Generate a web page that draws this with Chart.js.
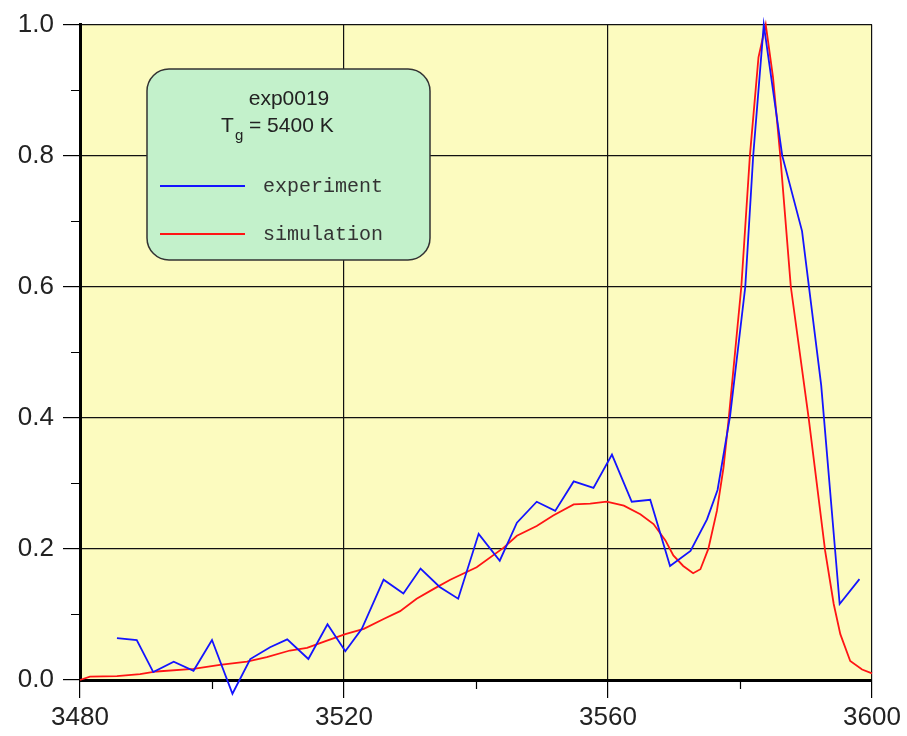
<!DOCTYPE html>
<html>
<head>
<meta charset="utf-8">
<title>exp0019</title>
<script src="https://cdn.jsdelivr.net/npm/chart.js@4.4.1/dist/chart.umd.min.js"></script>
<style>
  html, body { margin: 0; padding: 0; background: #fff; }
  #wrap { width: 907px; height: 736px; }
</style>
</head>
<body>
<div id="wrap"><canvas id="spectrum" width="907" height="736"></canvas></div>
<script>
// experiment (blue)
var expX = [3485.6, 3488.6, 3491.1, 3494.2, 3497.2, 3500.0, 3503.1, 3505.8, 3508.8, 3511.4,
            3514.6, 3517.5, 3520.2, 3522.7, 3526.0, 3529.0, 3531.6, 3534.5, 3537.3, 3540.4,
            3543.6, 3546.2, 3549.2, 3552.0, 3554.8, 3557.8, 3560.6, 3563.6, 3566.4, 3569.4,
            3572.5, 3575.0, 3576.6, 3578.5, 3580.8, 3582.0, 3583.6, 3586.4, 3589.4, 3592.3,
            3595.1, 3598.1];
var expY = [0.064, 0.061, 0.012, 0.028, 0.014, 0.061, -0.021, 0.032, 0.050, 0.062,
            0.032, 0.085, 0.044, 0.078, 0.153, 0.132, 0.170, 0.142, 0.124, 0.223,
            0.182, 0.240, 0.272, 0.258, 0.303, 0.293, 0.344, 0.272, 0.275, 0.174,
            0.197, 0.245, 0.290, 0.403, 0.600, 0.800, 1.000, 0.800, 0.685, 0.450,
            0.116, 0.154];

// simulation (red)
var simX = [3480.0, 3481.5, 3485.6, 3489.1, 3491.6, 3497.2, 3501.2, 3505.3, 3508.3, 3511.8,
            3514.4, 3517.1, 3520.2, 3523.0, 3526.0, 3528.5, 3531.0, 3533.6, 3536.1, 3540.1,
            3544.2, 3546.2, 3549.2, 3551.7, 3554.8, 3557.3, 3559.8, 3562.4, 3564.9, 3566.9,
            3568.7, 3569.9, 3571.4, 3572.9, 3574.0, 3575.2, 3576.5, 3577.5, 3578.3, 3580.2,
            3581.5, 3582.8, 3583.9, 3585.0, 3586.1, 3587.7, 3590.4, 3592.9, 3594.2, 3595.2,
            3596.7, 3598.5, 3600.0];
var simY = [0.000, 0.005, 0.006, 0.009, 0.013, 0.017, 0.023, 0.028, 0.035, 0.045,
            0.049, 0.059, 0.070, 0.078, 0.093, 0.105, 0.124, 0.139, 0.153, 0.172,
            0.202, 0.220, 0.235, 0.251, 0.268, 0.269, 0.272, 0.266, 0.253, 0.238,
            0.213, 0.190, 0.174, 0.163, 0.169, 0.200, 0.258, 0.324, 0.400, 0.600,
            0.800, 0.950, 1.000, 0.920, 0.800, 0.600, 0.400, 0.197, 0.116, 0.070,
            0.029, 0.016, 0.010];

var xMinorTicks = [3500, 3540, 3580];
var yMinorTicks = [0.1, 0.3, 0.5, 0.7, 0.9];

var legendTitle = 'exp0019';
var legendNames = ['experiment', 'simulation'];

function toPoints(xs, ys) {
    var pts = [];
    for (var i = 0; i < xs.length; i++) pts.push({ x: xs[i], y: ys[i] });
    return pts;
}

var tickFont = { family: '"Liberation Sans", Arial, sans-serif', size: 26 };

// yellow plot background + the small minor tick marks on the axes
var frame = {
    id: 'frame',
    beforeDraw: function(chart) {
        var a = chart.chartArea, c = chart.ctx;
        c.save();
        c.fillStyle = '#fcfbbf';
        c.fillRect(a.left, a.top, a.right - a.left, a.bottom - a.top);
        c.restore();
    },
    afterDraw: function(chart) {
        var c = chart.ctx, a = chart.chartArea;
        var xs = chart.scales.x, ys = chart.scales.y;
        c.save();
        c.strokeStyle = '#000';
        c.lineWidth = 1.2;
        c.beginPath();
        yMinorTicks.forEach(function(v) {
            var py = Math.round(ys.getPixelForValue(v)) + 0.5;
            c.moveTo(a.left - 9, py); c.lineTo(a.left, py);
        });
        xMinorTicks.forEach(function(v) {
            var px = Math.round(xs.getPixelForValue(v)) + 0.5;
            c.moveTo(px, a.bottom); c.lineTo(px, a.bottom + 9);
        });
        c.stroke();
        c.restore();
    }
};

// rounded green box with title and line samples
var legendBox = {
    id: 'legendBox',
    afterDatasetsDraw: function(chart) {
        var c = chart.ctx;
        var x0 = 147, y0 = 69, w = 283, h = 191, r = 22;
        c.save();
        c.beginPath();
        c.moveTo(x0 + r, y0);
        c.arcTo(x0 + w, y0, x0 + w, y0 + h, r);
        c.arcTo(x0 + w, y0 + h, x0, y0 + h, r);
        c.arcTo(x0, y0 + h, x0, y0, r);
        c.arcTo(x0, y0, x0 + w, y0, r);
        c.closePath();
        c.fillStyle = '#c3f1cb';
        c.fill();
        c.strokeStyle = '#333';
        c.lineWidth = 1.5;
        c.stroke();

        c.fillStyle = '#222';
        c.textBaseline = 'alphabetic';
        c.textAlign = 'center';
        c.font = '21px "Liberation Sans", Arial, sans-serif';
        c.fillText(legendTitle, 289, 105);

        // T with subscript g
        c.textAlign = 'left';
        c.fillText('T', 221, 132);
        c.font = '15px "Liberation Sans", Arial, sans-serif';
        c.fillText('g', 235, 140);
        c.font = '21px "Liberation Sans", Arial, sans-serif';
        c.fillText('= 5400 K', 249, 132);

        var colors = ['#1414ff', '#ff1414'];
        var rows = [186, 234];
        c.font = '20px "Liberation Mono", "Courier New", monospace';
        c.fillStyle = '#333';
        for (var i = 0; i < 2; i++) {
            c.beginPath();
            c.strokeStyle = colors[i];
            c.lineWidth = 2;
            c.moveTo(160, rows[i]);
            c.lineTo(245, rows[i]);
            c.stroke();
            c.fillText(legendNames[i], 263, rows[i] + 6);
        }
        c.restore();
    }
};

var ctx = document.getElementById('spectrum');
var spectrumChart = new Chart(ctx, {
    type: 'scatter',
    data: {
        datasets: [{
            label: legendNames[0],
            data: toPoints(expX, expY),
            showLine: true,
            borderColor: '#1414ff',
            borderWidth: 1.8,
            pointRadius: 0,
            tension: 0,
            clip: false
        }, {
            label: legendNames[1],
            data: toPoints(simX, simY),
            showLine: true,
            borderColor: '#ff1414',
            borderWidth: 1.8,
            pointRadius: 0,
            tension: 0,
            clip: false
        }]
    },
    options: {
        responsive: false,
        animation: false,
        events: [],
        layout: { padding: { top: 23, right: 35, left: 0, bottom: 0 } },
        plugins: {
            legend: { display: false },
            tooltip: { enabled: false }
        },
        scales: {
            x: {
                type: 'linear',
                min: 3480,
                max: 3600,
                afterFit: function(s) { s.height = 56; },
                ticks: {
                    stepSize: 40,
                    autoSkip: false,
                    maxRotation: 0,
                    padding: 4,
                    color: '#222',
                    font: tickFont,
                    callback: function(v) { return String(v); }
                },
                grid: { color: '#111', lineWidth: 1.2, tickLength: 18, tickColor: '#000' },
                border: { display: true, color: '#000', width: 3 }
            },
            y: {
                min: 0,
                max: 1,
                afterFit: function(s) { s.width = 80; },
                ticks: {
                    stepSize: 0.2,
                    padding: 9,
                    color: '#222',
                    font: tickFont,
                    callback: function(v) { return v.toFixed(1); }
                },
                grid: { color: '#111', lineWidth: 1.2, tickLength: 17, tickColor: '#000' },
                border: { display: true, color: '#000', width: 3 }
            }
        }
    },
    plugins: [frame, legendBox]
});
</script>
</body>
</html>
